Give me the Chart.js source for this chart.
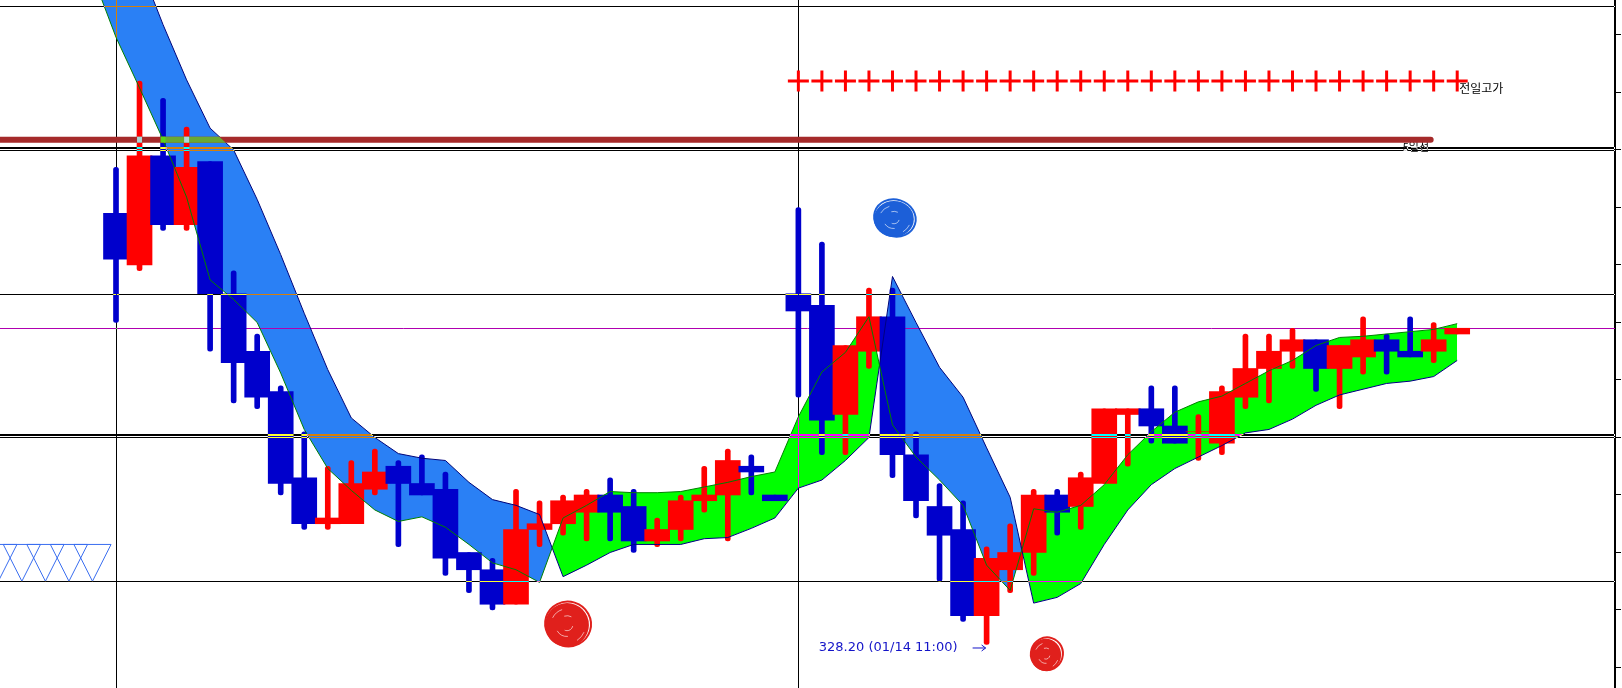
<!DOCTYPE html>
<html>
<head>
<meta charset="utf-8">
<script src="https://cdn.jsdelivr.net/npm/chart.js@4.4.0/dist/chart.umd.min.js"></script>
<style>
html, body { margin: 0; padding: 0; background: #fff; }
#wrap { width: 1622px; height: 688px; position: relative; }
</style>
</head>
<body>
<div id="wrap"><canvas id="myChart"></canvas></div>
<script>
// candles, one per bar
const open  = [331.95, 331.50, 332.45, 331.85, 332.40, 331.25, 330.75, 330.40, 329.65, 329.25,
               329.25, 329.55, 329.75, 329.60, 329.55, 329.00, 328.85, 328.55, 329.20, 329.25,
               329.35, 329.50, 329.40, 329.10, 329.20, 329.45, 329.50, 329.75, 329.50, 331.25,
               331.15, 330.20, 330.75, 331.05, 329.85, 329.40, 329.20, 328.45, 328.85, 329.00,
               329.50, 329.40, 329.60, 330.20, 330.25, 330.10, 330.05, 329.95, 330.35, 330.60,
               330.75, 330.85, 330.60, 330.70, 330.85, 330.75, 330.75, 330.90];
const high  = [332.35, 333.10, 332.95, 332.70, 332.40, 331.45, 330.90, 330.45, 330.05, 329.75,
               329.80, 329.90, 329.80, 329.85, 329.70, 329.00, 328.95, 329.55, 329.45, 329.50,
               329.55, 329.65, 329.55, 329.30, 329.50, 329.75, 329.90, 329.85, 329.50, 332.00,
               331.70, 330.80, 331.30, 331.30, 330.05, 329.60, 329.45, 329.05, 329.25, 329.55,
               329.55, 329.70, 330.25, 330.25, 330.45, 330.45, 330.20, 330.45, 330.90, 330.90,
               330.95, 330.85, 330.80, 331.05, 330.90, 331.05, 331.00, 330.95];
const low   = [331.00, 331.45, 331.80, 331.80, 330.75, 330.30, 330.25, 329.50, 329.20, 329.20,
               329.25, 329.50, 329.05, 329.50, 328.80, 328.65, 328.50, 328.55, 329.05, 329.15,
               329.10, 329.10, 329.00, 329.05, 329.10, 329.35, 329.10, 329.50, 329.45, 330.35,
               329.85, 329.85, 330.60, 329.65, 329.30, 328.75, 328.40, 328.20, 328.65, 328.80,
               329.15, 329.20, 329.60, 329.75, 329.95, 329.95, 329.80, 329.85, 330.25, 330.30,
               330.60, 330.40, 330.25, 330.55, 330.55, 330.70, 330.65, 330.90];
const close = [331.55, 332.45, 331.85, 332.35, 331.25, 330.65, 330.35, 329.60, 329.25, 329.30,
               329.60, 329.70, 329.60, 329.50, 328.95, 328.85, 328.55, 329.20, 329.25, 329.45,
               329.50, 329.35, 329.10, 329.20, 329.45, 329.50, 329.80, 329.70, 329.45, 331.10,
               330.15, 330.80, 331.05, 329.85, 329.45, 329.15, 328.45, 328.95, 329.00, 329.50,
               329.35, 329.65, 330.25, 330.25, 330.10, 329.95, 330.05, 330.40, 330.60, 330.75,
               330.85, 330.60, 330.80, 330.85, 330.75, 330.70, 330.85, 330.95];

// the two band lines, starting one bar before the first candle
const fastLine = [334.02, 333.48, 333.04, 332.59, 332.09, 331.37, 331.20, 331.00, 330.56, 330.07,
                  329.73, 329.54, 329.37, 329.27, 329.31, 329.22, 329.07, 328.91, 328.85, 328.74,
                  329.30, 329.41, 329.53, 329.52, 329.52, 329.53, 329.57, 329.61, 329.66, 329.70,
                  330.18, 330.57, 330.74, 331.05, 330.11, 329.83, 329.63, 329.41, 328.89, 328.67,
                  329.38, 329.35, 329.41, 329.59, 329.85, 330.05, 330.22, 330.31, 330.36, 330.47,
                  330.58, 330.67, 330.80, 330.87, 330.88, 330.90, 330.92, 330.94, 330.99];
const slowLine = [335.11, 334.63, 334.11, 333.59, 333.11, 332.69, 332.50, 332.07, 331.59, 331.08,
                  330.59, 330.17, 330.00, 329.86, 329.82, 329.80, 329.61, 329.46, 329.41, 329.33,
                  328.79, 328.89, 329.00, 329.07, 329.07, 329.07, 329.12, 329.13, 329.21, 329.30,
                  329.56, 329.63, 329.80, 330.00, 331.40, 331.00, 330.61, 330.35, 329.91, 329.48,
                  328.56, 328.61, 328.73, 329.07, 329.37, 329.59, 329.73, 329.83, 329.93, 330.04,
                  330.07, 330.16, 330.28, 330.37, 330.42, 330.47, 330.49, 330.53, 330.67];

const yTicks = [328.0, 328.5, 329.0, 329.5, 330.0, 330.5, 331.0, 331.5, 332.0, 332.5, 333.0, 333.5];

const crossIdx = [29, 30, 31, 32, 33, 34, 35, 36, 37, 38, 39, 40, 41, 42, 43, 44, 45, 46, 47, 48,
                  49, 50, 51, 52, 53, 54, 55, 56, 57];
const markIdx = [-5, -4, -3, -2, -1];
const markTop = 329.07;
const markTip = 328.75;
const levelLines = [333.75, 331.25, 328.75];
const doubleLines = [332.50, 330.00];
const vLineIdx = [0, 29];
const prevHigh = 333.10;
const ma5 = 332.59;
const ma5End = 56.0;
const lastPrice = 330.95;
const lowIdx = 37;
const lowPrice = 328.20;
const lowText = '328.20 (01/14 11:00)';
// [bar index, price, radius x, radius y, colour]
const scribbles = [
  [33.06, 331.90, 21, 19, '#1c5fd8'],
  [19.17, 328.37, 23, 23, '#e0201c'],
  [39.52, 328.11, 16, 17, '#e0201c']
];

const UP = '#ff0000';
const DOWN = '#0000cc';
const candleColor = close.map((c, i) => c >= open[i] ? UP : DOWN);

const ctx = document.getElementById('myChart');

function pts(values) {
  return values.map((v, k) => ({ x: k - 1, y: v }));
}

function scribble(c, cx, cy, rx, ry, color) {
  c.save();
  c.fillStyle = color;
  c.beginPath();
  c.ellipse(cx, cy, rx * 0.95, ry * 0.95, 0, 0, Math.PI * 2);
  c.fill();
  c.strokeStyle = color;
  c.lineWidth = 2;
  c.beginPath();
  c.ellipse(cx + 1, cy - 1, rx, ry * 0.97, 0.3, 0, Math.PI * 2);
  c.stroke();
  c.strokeStyle = 'rgba(255,255,255,0.6)';
  c.lineWidth = 1;
  [[0.25, 0.2, 2.0], [0.5, 1.5, 2.6], [0.7, 3.6, 4.4], [0.4, 4.4, 5.2], [0.8, 0.4, 1.0]].forEach(a => {
    c.beginPath();
    c.ellipse(cx, cy, rx * a[0], ry * a[0], 0, a[1], a[2]);
    c.stroke();
  });
  c.restore();
}

function vCols(x) {
  return vLineIdx.map(i => Math.round(x.getPixelForValue(i)));
}

// black lines in the original are drawn by inverting what is under them
function invertRect(chart, x0, y0, w, h) {
  const r = chart.currentDevicePixelRatio || 1;
  const px = Math.round(x0 * r), py = Math.round(y0 * r);
  const pw = Math.max(1, Math.round(w * r)), ph = Math.max(1, Math.round(h * r));
  const img = chart.ctx.getImageData(px, py, pw, ph);
  const d = img.data;
  for (let k = 0; k < d.length; k += 4) {
    d[k] = 255 - d[k]; d[k + 1] = 255 - d[k + 1]; d[k + 2] = 255 - d[k + 2]; d[k + 3] = 255;
  }
  chart.ctx.putImageData(img, px, py);
}

const overlay = {
  id: 'overlay',
  beforeDraw(chart) {
    const c = chart.ctx;
    c.save();
    c.fillStyle = '#fff';
    c.fillRect(0, 0, chart.width, chart.height);
    c.restore();
  },
  afterDatasetDraw(chart, args) {
    // runs right after the band fill, before the candles
    if (args.index !== 0) return;
    const c = chart.ctx, a = chart.chartArea, x = chart.scales.x, y = chart.scales.y;
    c.save();
    c.strokeStyle = '#b000b0';
    c.lineWidth = 1;
    const py = Math.round(y.getPixelForValue(lastPrice)) + 0.5;
    c.beginPath();
    c.moveTo(a.left, py);
    c.lineTo(a.right, py);
    c.stroke();
    c.fillStyle = '#000';
    c.font = '11px "Noto Sans CJK KR"';
    c.textBaseline = 'middle';
    c.fillText('5일선', x.getPixelForValue(ma5End) - 31, y.getPixelForValue(ma5) + 7);
    c.restore();
    vCols(x).forEach(col => invertRect(chart, col, a.top, 1, a.bottom - a.top));
  },
  afterDatasetsDraw(chart) {
    const c = chart.ctx, a = chart.chartArea, x = chart.scales.x, y = chart.scales.y;
    const my = y.getPixelForValue(ma5);

    // moving average line
    c.save();
    c.strokeStyle = '#a52a2a';
    c.lineWidth = 6;
    c.lineCap = 'round';
    c.beginPath();
    c.moveTo(a.left - 5, my);
    c.lineTo(x.getPixelForValue(ma5End) - 3, my);
    c.stroke();
    c.restore();

    // where that line runs over the first band it shows another tone
    c.save();
    c.beginPath();
    for (let k = 0; k <= 6; k++) {
      const px = x.getPixelForValue(k - 1), py = y.getPixelForValue(fastLine[k]);
      if (k === 0) c.moveTo(px, py); else c.lineTo(px, py);
    }
    for (let k = 6; k >= 0; k--) c.lineTo(x.getPixelForValue(k - 1), y.getPixelForValue(slowLine[k]));
    c.closePath();
    c.clip();
    c.strokeStyle = '#6aa832';
    c.lineWidth = 6;
    c.beginPath();
    c.moveTo(a.left, my);
    c.lineTo(x.getPixelForValue(10), my);
    c.stroke();
    c.restore();
    c.save();
    open.forEach((o, i) => {
      if (low[i] <= ma5 && high[i] >= ma5) {
        c.fillStyle = candleColor[i] === UP ? '#a8d8d8' : '#5ad519';
        c.fillRect(x.getPixelForValue(i) - 2.5, my - 3, 5, 6);
      }
    });
    c.restore();

    // pattern marks at the left
    c.save();
    c.strokeStyle = '#3a6ef0';
    c.lineWidth = 1;
    const hw = x.getPixelForValue(0.79) - x.getPixelForValue(0);
    const t = y.getPixelForValue(markTop), b = y.getPixelForValue(markTip);
    markIdx.forEach(i => {
      const cx = x.getPixelForValue(i);
      c.beginPath();
      c.moveTo(cx - hw, t);
      c.lineTo(cx + hw, t);
      c.lineTo(cx, b);
      c.closePath();
      c.stroke();
    });
    c.restore();

    // horizontal level lines, skipping the columns of the vertical ones
    const cols = vCols(x);
    const hseg = row => {
      let from = Math.round(a.left);
      cols.forEach(col => { if (col > from) invertRect(chart, from, row, col - from, 1); from = col + 1; });
      invertRect(chart, from, row, Math.round(a.right) - from, 1);
    };
    levelLines.forEach(p => hseg(Math.round(y.getPixelForValue(p))));
    doubleLines.forEach(p => {
      const base = Math.round(y.getPixelForValue(p));
      [-3, -2, 0].forEach(d => hseg(base + d));
    });

    // texts
    c.save();
    c.fillStyle = '#000';
    c.font = '12px "Noto Sans CJK KR"';
    c.textBaseline = 'middle';
    c.fillText('전일고가', x.getPixelForValue(crossIdx[crossIdx.length - 1]) + 2, y.getPixelForValue(prevHigh) + 7);

    const lx = x.getPixelForValue(lowIdx), ly = y.getPixelForValue(lowPrice) + 3;
    c.fillStyle = '#1414c8';
    c.strokeStyle = '#1414c8';
    c.font = '13px "DejaVu Sans"';
    c.textAlign = 'right';
    c.fillText(lowText, lx - 29, ly);
    c.lineWidth = 1;
    c.beginPath();
    c.moveTo(lx - 14, ly + 0.5); c.lineTo(lx - 1, ly + 0.5);
    c.moveTo(lx - 5, ly - 2.5); c.lineTo(lx - 1, ly + 0.5); c.lineTo(lx - 5, ly + 3.5);
    c.stroke();
    c.restore();

    scribbles.forEach(s => scribble(c, x.getPixelForValue(s[0]), y.getPixelForValue(s[1]), s[2], s[3], s[4]));
  }
};

const chart = new Chart(ctx, {
  type: 'bar',
  data: {
    datasets: [
      {
        type: 'line', data: pts(fastLine), borderWidth: 0, pointRadius: 0, order: 3,
        fill: { target: 1, above: '#00ff00', below: '#2a80f5' }
      },
      { type: 'line', data: pts(slowLine), borderWidth: 0, pointRadius: 0, order: 3, fill: false },
      {
        data: open.map((_, i) => ({ x: i, y: [low[i], high[i]] })),
        backgroundColor: candleColor, barThickness: 5, borderRadius: 2.5,
        borderSkipped: false, grouped: false, order: 2
      },
      {
        data: open.map((o, i) => ({ x: i, y: [o, close[i]] })),
        backgroundColor: candleColor, barThickness: 25, grouped: false, order: 1
      },
      { type: 'line', data: pts(fastLine), borderColor: '#008000', borderWidth: 1, pointRadius: 0, fill: false, order: 0 },
      { type: 'line', data: pts(slowLine), borderColor: '#000080', borderWidth: 1, pointRadius: 0, fill: false, order: 0 },
      {
        type: 'line', data: crossIdx.map(i => ({ x: i, y: prevHigh })), showLine: false,
        pointStyle: 'cross', pointRadius: 10.5, pointBorderWidth: 3,
        pointBorderColor: '#ff0000', pointBackgroundColor: '#ff0000', order: 0
      }
    ]
  },
  options: {
    responsive: true,
    maintainAspectRatio: false,
    animation: false,
    events: [],
    layout: { padding: 0, autoPadding: false },
    plugins: { legend: { display: false }, tooltip: { enabled: false }, title: { display: false } },
    scales: {
      x: { type: 'linear', min: -4.930, max: 63.706, offset: false, display: false, grid: { display: false } },
      y: {
        type: 'linear', position: 'right', min: 327.8217, max: 333.8043,
        afterBuildTicks: s => { s.ticks = yTicks.map(v => ({ value: v })); },
        afterFit: s => { s.width = 7; },
        ticks: { display: false },
        grid: { drawOnChartArea: false, drawTicks: true, tickLength: 6, color: '#000', lineWidth: 1 },
        border: { display: true, color: '#000', width: 2 }
      }
    }
  },
  plugins: [overlay]
});
</script>
</body>
</html>
